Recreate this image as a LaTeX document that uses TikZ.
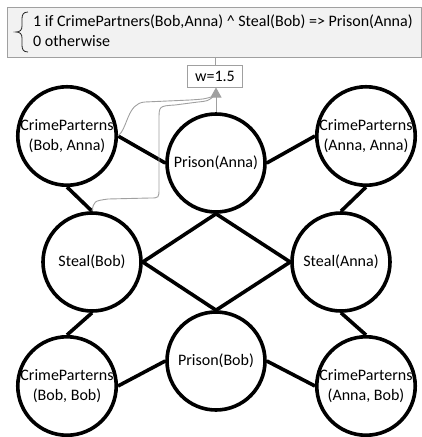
\documentclass[tikz,border=0pt]{standalone}
\usepackage{fontspec}
\setmainfont{Carlito}
\usetikzlibrary{arrows.meta}
\definecolor{boxgray}{HTML}{F2F2F2}
\definecolor{linegray}{HTML}{A0A0A0}
\begin{document}
\begin{tikzpicture}[x=1pt,y=-1pt,
  every node/.style={font=\fontsize{16}{20}\selectfont},
  var/.style={circle, draw=black, line width=3.6pt, minimum size=98pt, inner sep=0pt, align=center},
  edge/.style={line width=3.6pt, black},
  topbox/.style={draw=linegray, fill=boxgray, line width=1pt, minimum width=414pt, minimum height=50pt, inner sep=0pt},
  wstyle/.style={draw=linegray, fill=white, line width=1pt, minimum width=55pt, minimum height=22pt, inner sep=0pt},
  gline/.style={draw=linegray, line width=0.9pt},
  garrow/.style={gline, -{Triangle[width=11pt,length=10pt]}, fill=linegray},
  bracestyle/.style={draw=black!85, line width=0.8pt}
]
\useasboundingbox (0,0) rectangle (422,437);

\node[topbox, anchor=north west] (top) at (7,7) {};
\node[anchor=west, inner sep=0pt] (cond) at (33,32)
  {\begin{tabular}{@{}l@{}}1 if CrimePartners(Bob,Anna) \textasciicircum{} Steal(Bob) => Prison(Anna)\\0 otherwise\end{tabular}};
\draw[bracestyle] (28,12) .. controls (23,12) and (22,15) .. (22,19) -- (22,26)
  .. controls (22,30) and (20,32) .. (16,32)
  .. controls (20,32) and (22,34) .. (22,38) -- (22,45)
  .. controls (22,49) and (23,52) .. (28,52);

\node[wstyle] (w) at (215,76) {w=1.5};

\node[var] (cpba) at (67,136) {CrimeParterns\\(Bob, Anna)};
\node[var] (pa) at (216,163) {Prison(Anna)};
\node[var] (cpaa) at (366,136) {CrimeParterns\\(Anna, Anna)};
\node[var] (sb) at (92,262) {Steal(Bob)};
\node[var] (sa) at (341,262) {Steal(Anna)};
\node[var] (pb) at (216,361) {Prison(Bob)};
\node[var] (cpbb) at (67,386) {CrimeParterns\\(Bob, Bob)};
\node[var] (cpab) at (366,386) {CrimeParterns\\(Anna, Bob)};

\draw[edge] (cpba.east) -- (pa.west);
\draw[edge] (cpba.south) -- (sb.north);
\draw[edge] (pa.east) -- (cpaa.west);
\draw[edge] (cpaa.south) -- (sa.north);
\draw[edge] (sb.east) -- (pa.south);
\draw[edge] (sb.east) -- (pb.north);
\draw[edge] (sa.west) -- (pa.south);
\draw[edge] (sa.west) -- (pb.north);
\draw[edge] (sb.south) -- (cpbb.north);
\draw[edge] (sa.south) -- (cpab.north);
\draw[edge] (pb.west) -- (cpbb.east);
\draw[edge] (pb.east) -- (cpab.west);

\draw[gline] (top.south -| w.north) -- (w.north);
\coordinate (hb) at (214,96);
\draw[garrow] (pa.north) -- (pa.north |- w.south);
\draw[gline] (cpba.east) .. controls (128,128) and (127,103) .. (145,102) -- (190,100) .. controls (205,99) .. (hb);
\draw[gline] (sb.north) .. controls (94,201) .. (108,199) -- (150,198) .. controls (159,198) .. (159,188) -- (159,120) .. controls (159,106) .. (175,105) -- (198,102) .. controls (208,101) .. (hb);
\end{tikzpicture}
\end{document}
